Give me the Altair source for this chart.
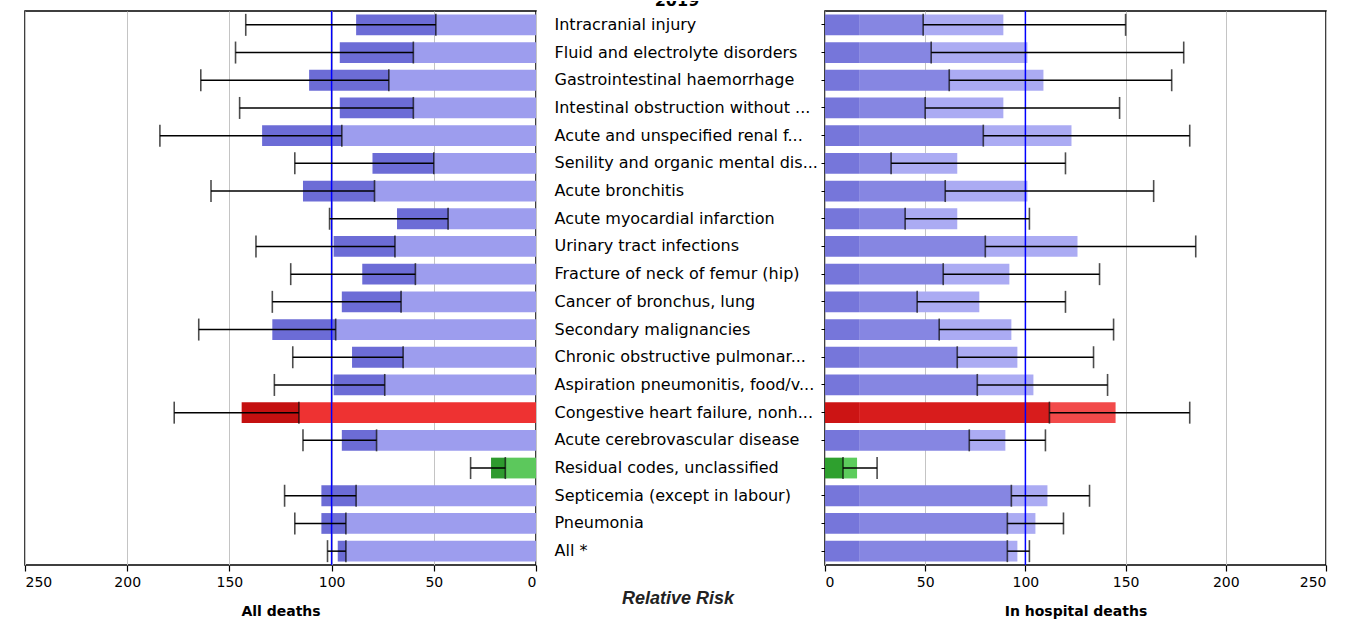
import altair as alt
import pandas as pd

categories = [
    "Intracranial injury",
    "Fluid and electrolyte disorders",
    "Gastrointestinal haemorrhage",
    "Intestinal obstruction without ...",
    "Acute and unspecified renal f...",
    "Senility and organic mental dis...",
    "Acute bronchitis",
    "Acute myocardial infarction",
    "Urinary tract infections",
    "Fracture of neck of femur (hip)",
    "Cancer of bronchus, lung",
    "Secondary malignancies",
    "Chronic obstructive pulmonar...",
    "Aspiration pneumonitis, food/v...",
    "Congestive heart failure, nonh...",
    "Acute cerebrovascular disease",
    "Residual codes, unclassified",
    "Septicemia (except in labour)",
    "Pneumonia",
    "All *",
]
status = ["n"] * 14 + ["high", "n", "low", "n", "n", "n"]

all_rr = [88, 96, 111, 96, 134, 80, 114, 68, 99, 85, 95, 129, 90, 99, 144, 95, 22, 105, 105, 97]
all_lo = [49, 60, 72, 60, 95, 50, 79, 43, 69, 59, 66, 98, 65, 74, 116, 78, 15, 88, 93, 93]
all_hi = [142, 147, 164, 145, 184, 118, 159, 101, 137, 120, 129, 165, 119, 128, 177, 114, 32, 123, 118, 102]

hosp_rr = [89, 101, 109, 89, 123, 66, 101, 66, 126, 92, 77, 93, 96, 104, 145, 90, 16, 111, 105, 96]
hosp_lo = [49, 53, 62, 50, 79, 33, 60, 40, 80, 59, 46, 57, 66, 76, 112, 72, 9, 93, 91, 91]
hosp_hi = [150, 179, 173, 147, 182, 120, 164, 102, 185, 137, 120, 144, 134, 141, 182, 110, 26, 132, 119, 102]

x_ticks = [0, 50, 100, 150, 200, 250]
reference_value = [100]
stub_end = 17

PAL = {
    "n": {"l_light": "#9d9dee", "l_dark": "#6c6cd6", "r_stub": "#7676da", "r_mid": "#8686e2", "r_light": "#ababf3"},
    "high": {"l_light": "#ee3232", "l_dark": "#c41010", "r_stub": "#cc1414", "r_mid": "#d81c1c", "r_light": "#f24a4a"},
    "low": {"l_light": "#5cc85c", "l_dark": "#2e9a2e", "r_stub": "#2ea02e", "r_mid": "#2ea02e", "r_light": "#5ccc5c"},
}

left_rows = []
for c, s, v, lo in zip(categories, status, all_rr, all_lo):
    left_rows.append(dict(cat=c, a=0, b=lo, col=PAL[s]["l_light"]))
    left_rows.append(dict(cat=c, a=lo, b=v, col=PAL[s]["l_dark"]))
left_seg = pd.DataFrame(left_rows)

right_rows = []
for c, s, v, lo in zip(categories, status, hosp_rr, hosp_lo):
    st = min(stub_end, lo)
    right_rows.append(dict(cat=c, a=0, b=st, col=PAL[s]["r_stub"]))
    right_rows.append(dict(cat=c, a=st, b=lo, col=PAL[s]["r_mid"]))
    right_rows.append(dict(cat=c, a=lo, b=v, col=PAL[s]["r_light"]))
right_seg = pd.DataFrame(right_rows)

FONT = "DejaVu Sans"


def panel(seg, lo, hi, reverse, title, yaxis, width):
    err = pd.DataFrame({"cat": categories, "lo": lo, "hi": hi})
    ref = pd.DataFrame({"v": reference_value})
    xscale = alt.Scale(domain=[0, 250], reverse=reverse, nice=False, zero=False)
    yscale = alt.Scale(domain=categories, paddingInner=0.25, paddingOuter=0.125)
    xaxis = alt.Axis(
        values=x_ticks, grid=True, gridColor="#c4c4c4", gridWidth=1,
        title=title, titleFont=FONT, titleFontSize=14, titleFontWeight="bold",
        titleColor="black", titlePadding=15,
        labelFont=FONT, labelFontSize=14, labelColor="black", labelPadding=4,
        tickColor="black", tickSize=6, tickWidth=1.2, domain=False,
    )
    y = alt.Y("cat:N", scale=yscale, axis=yaxis, sort=categories)
    bars = alt.Chart(seg).mark_bar().encode(
        x=alt.X("a:Q", scale=xscale, axis=xaxis),
        x2="b:Q",
        y=y,
        color=alt.Color("col:N", scale=None),
    )
    refline = alt.Chart(ref).mark_rule(color="#0000ff", strokeWidth=1.5).encode(
        x=alt.X("v:Q", scale=xscale, axis=xaxis)
    )
    rule = alt.Chart(err).mark_rule(color="black", strokeWidth=1.5).encode(
        x=alt.X("lo:Q", scale=xscale, axis=xaxis), x2="hi:Q", y=y
    )
    cap_lo = alt.Chart(err).mark_tick(color="black", size=22, thickness=1.6).encode(
        x=alt.X("lo:Q", scale=xscale, axis=xaxis), y=y
    )
    cap_hi = alt.Chart(err).mark_tick(color="black", size=22, thickness=1.6).encode(
        x=alt.X("hi:Q", scale=xscale, axis=xaxis), y=y
    )
    return alt.layer(bars, refline, rule, cap_lo, cap_hi).properties(
        width=width, height=554,
        view=alt.ViewBackground(stroke="black", strokeWidth=1.5),
    )


left = panel(left_seg, all_lo, all_hi, True, "All deaths", None, 511)

cat_axis = alt.Axis(
    title=None, labelAlign="left", labelPadding=267, labelFont=FONT, labelFontSize=16,
    labelColor="black", labelLimit=320, tickSize=4, tickColor="black", domain=False,
    labelBaseline="middle",
)
right = panel(right_seg, hosp_lo, hosp_hi, False, "In hospital deaths", cat_axis, 501)

year = alt.Chart(pd.DataFrame({"t": ["2019"]})).mark_text(
    font=FONT, fontSize=16, fontWeight="bold", clip=True, baseline="middle", color="black"
).encode(text="t:N", x=alt.value(141), y=alt.value(0))
rr_title = alt.Chart(pd.DataFrame({"t": ["Relative Risk"]})).mark_text(
    font="Liberation Sans", fontSize=18, fontWeight="bold", fontStyle="italic",
    baseline="middle", color="#222222"
).encode(text="t:N", x=alt.value(142), y=alt.value(598))
middle = alt.layer(year, rr_title).properties(width=289, height=574)

chart = alt.hconcat(
    left, middle, right, spacing=0, bounds="flush", center=True
).resolve_scale(x="independent", y="independent").properties(
    padding={"left": 23, "top": 0, "right": 5, "bottom": 0},
    background="white",
).configure_view(stroke="transparent")

chart.save("out.html", embed_options={"renderer": "svg", "actions": False})
